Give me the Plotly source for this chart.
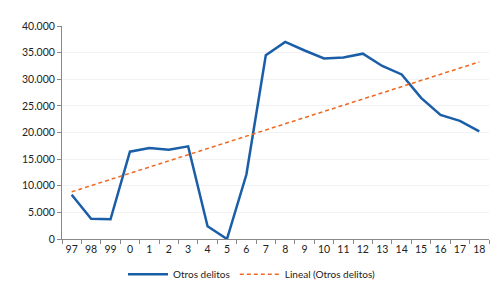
import numpy as np
import plotly.graph_objects as go

years = ["97", "98", "99", "0", "1", "2", "3", "4", "5", "6", "7", "8", "9",
         "10", "11", "12", "13", "14", "15", "16", "17", "18"]
otros_delitos = [8300, 3800, 3700, 16400, 17100, 16750, 17400, 2400, 0, 12100,
                 34500, 37000, 35400, 33900, 34100, 34800, 32500, 30900, 26500,
                 23300, 22200, 20200]
y_ticks = [0, 5000, 10000, 15000, 20000, 25000, 30000, 35000, 40000]

idx = np.arange(len(otros_delitos))
slope, intercept = np.polyfit(idx, otros_delitos, 1)
trend = (slope * idx + intercept).tolist()

fig = go.Figure()
fig.add_trace(go.Scatter(x=years, y=otros_delitos, mode="lines", name="Otros delitos",
                         line=dict(color="#1b5ea8", width=2.5)))
fig.add_trace(go.Scatter(x=years, y=trend, mode="lines", name="Lineal (Otros delitos)",
                         line=dict(color="#ee6a24", width=1.5, dash="4px,3px")))

fig.update_layout(
    width=501, height=293,
    margin=dict(l=54, r=20, t=16, b=58),
    paper_bgcolor="white", plot_bgcolor="white",
    separators=",.",
    font=dict(family="Lato, sans-serif", size=10.5, color="#222222"),
    showlegend=True,
    legend=dict(orientation="h", x=0.445, xanchor="center", y=-0.165, yanchor="middle",
                font=dict(size=10), itemwidth=40, tracegroupgap=0),
    xaxis=dict(type="category", categoryorder="array", categoryarray=years,
               range=[-0.5, len(years) - 0.5], tickson="boundaries",
               ticks="outside", ticklen=4, tickcolor="#888888", tickangle=0,
               showline=True, linecolor="#888888", linewidth=1,
               showgrid=False, tickfont=dict(size=10.5)),
    yaxis=dict(range=[0, 40000], tickvals=y_ticks, tickformat=",d",
               ticks="outside", ticklen=4, tickcolor="#888888",
               showline=True, linecolor="#888888", linewidth=1,
               showgrid=True, gridcolor="#f2f2f2", zeroline=False,
               tickfont=dict(size=10.5)),
)

fig.write_html("out.html")
